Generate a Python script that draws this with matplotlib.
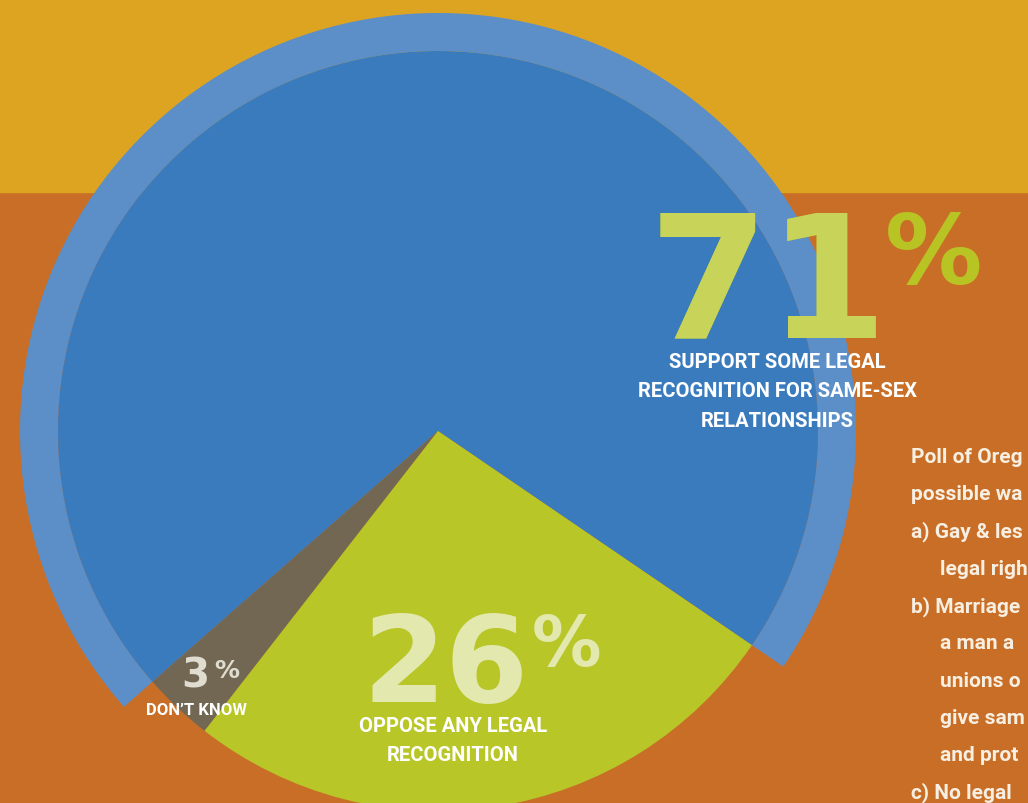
import matplotlib
matplotlib.use("Agg")
import matplotlib.pyplot as plt
from matplotlib.patches import Circle

# poll shares (pie order: support, don't know, oppose)
shares = [71, 3, 26]
pie_colors = ["#3A7BBE", "#726753", "#B8C627"]
ring_color = "#5C8EC8"

support_lines = ["SUPPORT SOME LEGAL", "RECOGNITION FOR SAME-SEX", "RELATIONSHIPS"]
oppose_lines = ["OPPOSE ANY LEGAL", "RECOGNITION"]
dontknow_line = "DON\u2019T KNOW"

# side note, as much as shows before the right edge
side_lines = [
    ("Poll of Oreg", 0),
    ("possible wa", 0),
    ("a) Gay & les", 0),
    ("legal righ", 1),
    ("b) Marriage", 0),
    ("a man a", 1),
    ("unions o", 1),
    ("give sam", 1),
    ("and prot", 1),
    ("c) No legal", 0),
]

H = 804
cx, cy = 438, H - 432
r_pie, r_ring = 380, 418
start = -34.3

fig = plt.figure(figsize=(10.28, 8.04), dpi=100)
ax = fig.add_axes([0, 0, 1, 1])

# background bands
ax.axhspan(0, H - 193, color="#C96E27", zorder=0)
ax.axhspan(H - 193, H, color="#DCA421", zorder=0)

# outer ring only around the "support" slice
ax.pie(shares, radius=r_ring, center=(cx, cy), startangle=start,
       colors=[ring_color, "none", "none"], wedgeprops=dict(width=r_ring - r_pie),
       frame=True)
ax.pie(shares, radius=r_pie, center=(cx, cy), startangle=start,
       colors=pie_colors, frame=True)

ax.set_xlim(0, 1028)
ax.set_ylim(0, H)
ax.axis("off")

big = dict(family="DejaVu Sans", fontweight="bold")
lab = dict(family="Roboto", fontweight="bold", color="white")

# 71% - lighter where it sits on the pie
clip = Circle((cx, cy), r_ring, transform=ax.transData)
ax.text(648, H - 338, f"{shares[0]}", fontsize=124, color="#B8C424",
        va="baseline", ha="left", zorder=5, **big)
t = ax.text(648, H - 338, f"{shares[0]}", fontsize=124, color="#C8D35A",
            va="baseline", ha="left", zorder=6, **big)
t.set_clip_path(clip)
ax.text(885, H - 211, "%", fontsize=70, color="#B8C424", va="top", ha="left",
        zorder=5, **big)
for i, s in enumerate(support_lines):
    ax.text(777, H - (368 + 29.5 * i), s, fontsize=14.5, ha="center",
            va="baseline", zorder=7, **lab)

# 26%
ax.text(362, H - 702, f"{shares[2]}", fontsize=86, color="#E3E8AE",
        va="baseline", ha="left", zorder=5, **big)
ax.text(532, H - 613, "%", fontsize=50, color="#E3E8AE", va="top", ha="left",
        zorder=5, **big)
for i, s in enumerate(oppose_lines):
    ax.text(453, H - (732 + 29.5 * i), s, fontsize=14.5, ha="center",
            va="baseline", zorder=7, **lab)

# 3%
ax.text(181, H - 688, f"{shares[1]}", fontsize=29, color="#E0DCD0",
        va="baseline", ha="left", zorder=5, **big)
ax.text(214, H - 659, "%", fontsize=18, color="#E0DCD0", va="top", ha="left",
        zorder=5, **big)
ax.text(196, H - 715, dontknow_line, fontsize=12, ha="center", va="baseline",
        zorder=7, **lab)

# side text
for i, (s, indent) in enumerate(side_lines):
    ax.text(911 + 29 * indent, H - (463 + 37.3 * i), s, fontsize=15,
            color="#F7EFE2", family="Roboto", fontweight="bold",
            ha="left", va="baseline", clip_on=True, zorder=7)

fig.savefig("out.png", dpi=100)
